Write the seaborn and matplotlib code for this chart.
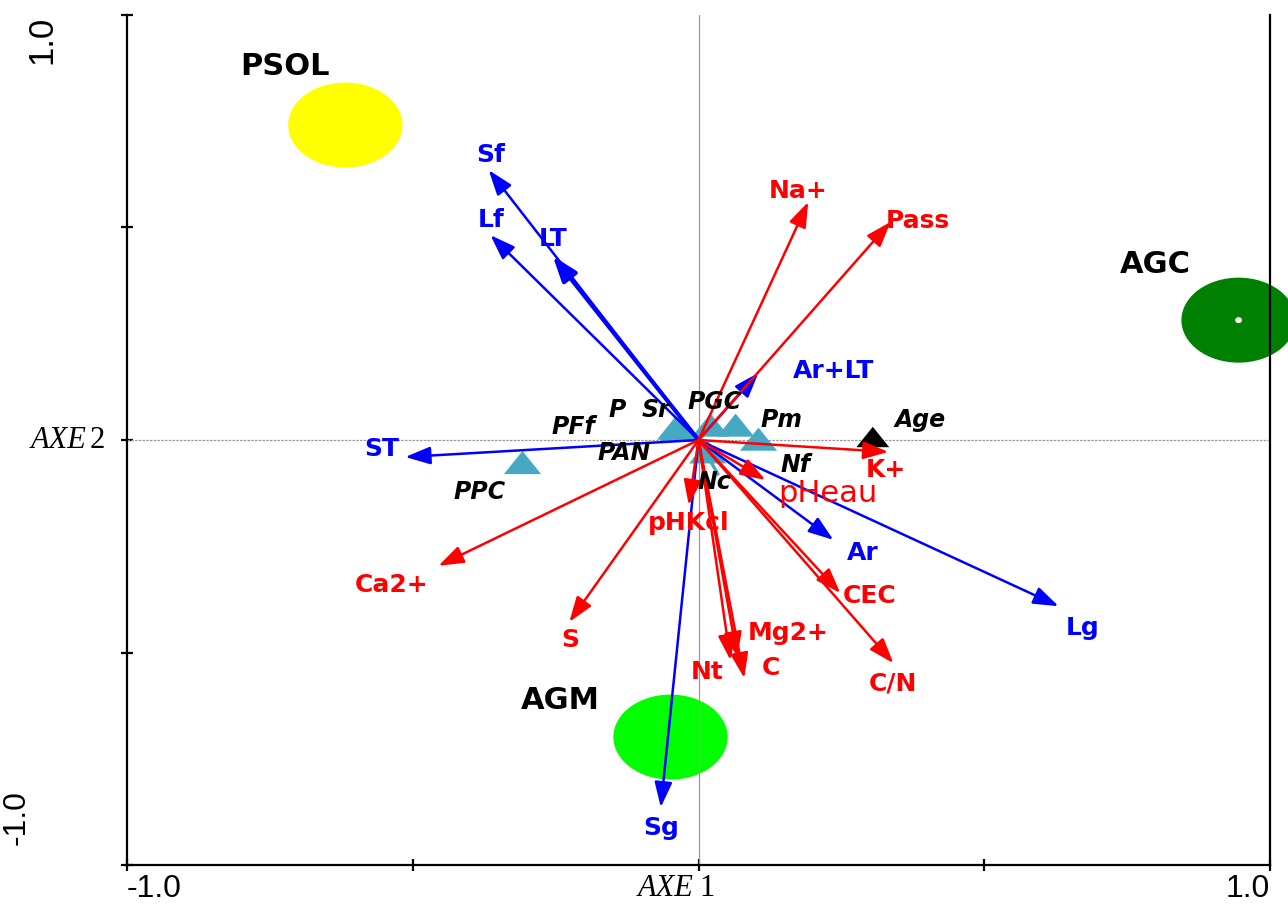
import matplotlib
matplotlib.use("Agg")
import matplotlib.pyplot as plt
from matplotlib.patches import Ellipse
from matplotlib.path import Path
import pandas as pd
import seaborn as sns

# Structural variables (blue vectors)
struct_names = ["Sf", "Lf", "LT", "Ar+LT", "ST", "Ar", "Lg", "Sg"]
struct_x = [-0.367, -0.364, -0.255, 0.105, -0.513, 0.236, 0.630, -0.066]
struct_y = [0.635, 0.482, 0.433, 0.158, -0.040, -0.235, -0.391, -0.864]

# Soil chemistry variables (red vectors)
chem_names = ["Na+", "Pass", "K+", "pHeau", "pHKcl", "Ca2+", "S", "CEC",
              "Mg2+", "Nt", "C", "C/N"]
chem_x = [0.192, 0.336, 0.332, 0.117, -0.017, -0.455, -0.226, 0.248,
          0.068, 0.056, 0.080, 0.341]
chem_y = [0.560, 0.513, -0.028, -0.094, -0.153, -0.296, -0.428, -0.360,
          -0.511, -0.518, -0.560, -0.525]

# Sampling sites
site_names = ["PFf", "P", "PAN", "Sr", "PGC", "Pm", "Nf", "Nc", "PPC"]
site_x = [-0.040, -0.036, -0.034, -0.030, 0.021, 0.065, 0.105, 0.016, -0.308]
site_y = [0.028, 0.028, 0.024, 0.028, 0.035, 0.035, 0.002, -0.028, -0.053]
nc_link = (0.035, -0.083)

# Supplementary variable
age_x = [0.305]
age_y = [0.007]

# Site groups
group_names = ["PSOL", "AGC", "AGM"]
group_x = [-0.618, 0.945, -0.049]
group_y = [0.741, 0.282, -0.699]
group_colors = ["#FFFF00", "#008000", "#00FF00"]

# Label anchors (data coordinates)
label_pos = {
    "Sf": (-0.364, 0.671), "Lf": (-0.362, 0.518), "LT": (-0.255, 0.473),
    "Ar+LT": (0.236, 0.162), "ST": (-0.555, -0.021), "Ar": (0.287, -0.266),
    "Lg": (0.672, -0.442), "Sg": (-0.066, -0.913),
    "Na+": (0.175, 0.586), "Pass": (0.383, 0.515), "K+": (0.327, -0.071),
    "pHeau": (0.227, -0.127), "pHKcl": (-0.017, -0.195),
    "Ca2+": (-0.537, -0.341), "S": (-0.224, -0.471), "CEC": (0.299, -0.367),
    "Mg2+": (0.157, -0.454), "Nt": (0.016, -0.546), "C": (0.126, -0.536),
    "C/N": (0.341, -0.572),
    "Age": (0.388, 0.047), "P": (-0.142, 0.071), "Sr": (-0.075, 0.071),
    "PGC": (0.028, 0.089), "Pm": (0.145, 0.047), "PFf": (-0.219, 0.031),
    "PAN": (-0.131, -0.031), "PPC": (-0.383, -0.122), "Nf": (0.170, -0.059),
    "Nc": (0.028, -0.099),
    "PSOL": (-0.723, 0.878), "AGC": (0.800, 0.412), "AGM": (-0.241, -0.612),
}

sns.set_style("ticks")
plt.rcParams["font.family"] = ["DejaVu Sans"]

fig = plt.figure(figsize=(12.88, 9.05), dpi=100)
ax = fig.add_axes([127 / 1288, 40 / 905, 1143 / 1288, 850 / 905])
ax.set_xlim(-1, 1)
ax.set_ylim(-1, 1)

# Frame
for side in ["left", "bottom", "right"]:
    ax.spines[side].set_color("black")
    ax.spines[side].set_linewidth(1.6)
ax.spines["top"].set_visible(False)
ax.set_xticks([-1, -0.5, 0, 0.5, 1])
ax.set_yticks([-1, -0.5, 0, 0.5, 1])
ax.tick_params(direction="inout", length=8, width=1.6, color="black",
               labelleft=False, labelbottom=False, right=False)

# Origin cross
ax.axhline(0, color="#9a9a9a", lw=0.9, ls=(0, (2, 1)), zorder=1.5)
ax.axvline(0, color="#9a9a9a", lw=0.9, zorder=1.5)

# Group ellipses
for name, gx, gy, col in zip(group_names, group_x, group_y, group_colors):
    ax.add_patch(Ellipse((gx, gy), 0.2, 0.2, facecolor=col, edgecolor="none",
                         zorder=1, clip_on=False))
    lx, ly = label_pos[name]
    ax.text(lx, ly, name, fontsize=22, fontweight="bold", color="black",
            ha="center", va="center", zorder=5)
ax.add_patch(Ellipse((group_x[1], group_y[1]), 0.012, 0.014,
                     facecolor="white", edgecolor="none", zorder=1.2,
                     clip_on=False))

# Site triangles
tri = Path([(-1, -0.62), (1, -0.62), (0, 0.62), (-1, -0.62)],
           [Path.MOVETO, Path.LINETO, Path.LINETO, Path.CLOSEPOLY])
sites = pd.DataFrame({"site": site_names, "x": site_x, "y": site_y})
sns.scatterplot(data=sites, x="x", y="y", marker=tri, s=720,
                color="#45A9C3", edgecolor="none", linewidth=0,
                legend=False, ax=ax, zorder=3)
ax.plot([0, nc_link[0]], [0, nc_link[1]], color="#45A9C3", lw=2.4,
        zorder=3.1, solid_capstyle="butt")
age = pd.DataFrame({"x": age_x, "y": age_y})
sns.scatterplot(data=age, x="x", y="y", marker=tri, s=560, color="black",
                edgecolor="none", linewidth=0, legend=False, ax=ax, zorder=3)
ax.set_xlabel("")
ax.set_ylabel("")

# Vectors
arrow_style = "-|>,head_length=0.85,head_width=0.3"


def draw_vectors(names, xs, ys, color):
    for name, vx, vy in zip(names, xs, ys):
        lw = 3.0 if name == "LT" else 1.8
        ax.annotate("", xy=(vx, vy), xytext=(0, 0),
                    arrowprops=dict(arrowstyle=arrow_style, mutation_scale=18,
                                    color=color, lw=lw, shrinkA=0, shrinkB=0),
                    zorder=4)


draw_vectors(struct_names, struct_x, struct_y, "#0000FF")
draw_vectors(chem_names, chem_x, chem_y, "#FF0000")

for name in struct_names:
    lx, ly = label_pos[name]
    ax.text(lx, ly, name, fontsize=18, fontweight="bold", color="#0000FF",
            ha="center", va="center", zorder=5)
for name in chem_names:
    lx, ly = label_pos[name]
    if name == "pHeau":
        ax.text(lx, ly, name, fontsize=22, color="#FF0000",
                ha="center", va="center", zorder=5)
    else:
        ax.text(lx, ly, name, fontsize=18, fontweight="bold", color="#FF0000",
                ha="center", va="center", zorder=5)
for name in site_names + ["Age"]:
    lx, ly = label_pos[name]
    ax.text(lx, ly, name, fontsize=17, fontweight="bold", style="italic",
            color="black", ha="center", va="center", zorder=5)

# Scale labels
num_font = dict(family="Liberation Sans", fontsize=23, color="black")
ax.text(0.0, -0.0106, "-1.0", transform=ax.transAxes, ha="left", va="top",
        **num_font)
ax.text(1.0, -0.0106, "1.0", transform=ax.transAxes, ha="right", va="top",
        **num_font)
ax.text(-0.0744, 0.9988, "1.0", transform=ax.transAxes, rotation=90,
        ha="center", va="top", fontsize=25, family="Liberation Sans",
        color="black")
ax.text(-0.1094, 0.0553, "-1.0", transform=ax.transAxes, rotation=90,
        ha="left", va="center", **num_font)

# Axis titles
serif = dict(family="Liberation Serif", fontsize=22, color="black")
ax.text(-0.0358, 0.5, "AXE", transform=ax.transAxes, ha="right",
        va="center", style="italic", **serif)
ax.text(-0.0323, 0.5, "2", transform=ax.transAxes, ha="left",
        va="center", **serif)
ax.text(0.4956, -0.028, "AXE", transform=ax.transAxes, ha="right",
        va="center", style="italic", **serif)
ax.text(0.5008, -0.028, "1", transform=ax.transAxes, ha="left",
        va="center", **serif)

fig.savefig("out.png", dpi=100)
